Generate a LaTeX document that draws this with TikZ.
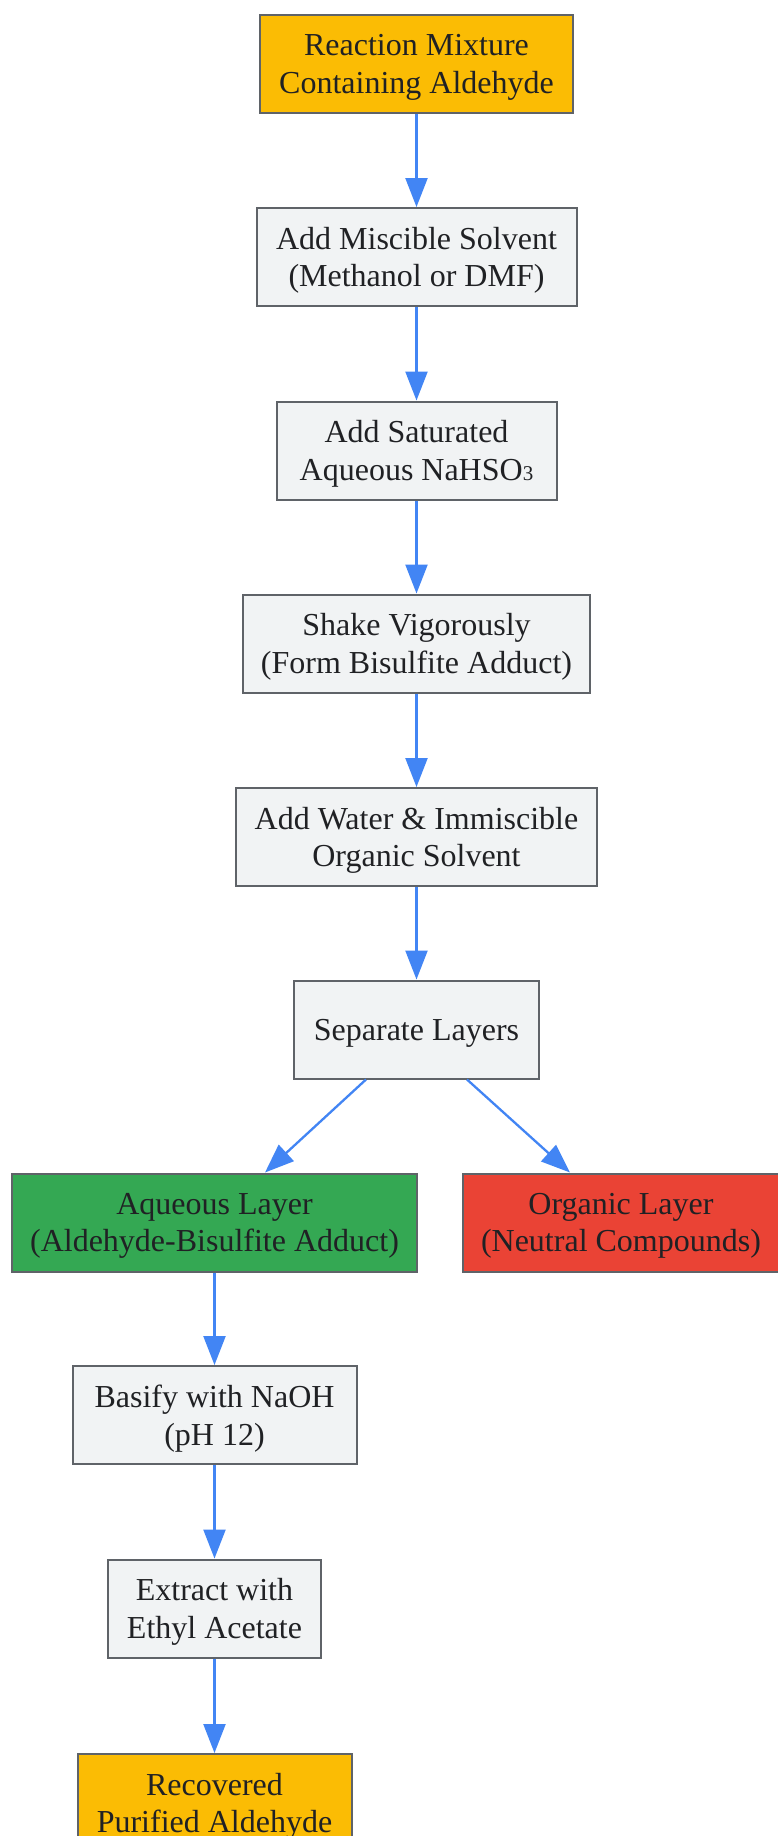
\documentclass[tikz,border=0pt]{standalone}
\usepackage{fontspec}
\setmainfont{Liberation Serif}
\usetikzlibrary{arrows.meta,calc}
\definecolor{cyellow}{HTML}{FBBC04}
\definecolor{cgreen}{HTML}{34A853}
\definecolor{cred}{HTML}{EA4335}
\definecolor{cgray}{HTML}{F1F3F4}
\definecolor{cborder}{HTML}{5F6368}
\definecolor{carrow}{HTML}{4285F4}
\definecolor{ctext}{HTML}{202124}
\tikzset{
  box/.style={draw=cborder, line width=2pt, fill=cgray, minimum height=98pt, inner sep=0pt,
    align=center, text=ctext, font=\fontsize{32}{37.7}\selectfont, text depth=-14pt},
  flow/.style={draw=carrow, line width=2.3pt, -{Triangle[length=29pt,width=22pt]}},
}
\begin{document}
\begin{tikzpicture}[x=1pt,y=-1pt]
\useasboundingbox (0,0) rectangle (777,1836);
\fill[white] (0,0) rectangle (777,1836);
\node[box, fill=cyellow, minimum width=313pt] (n1) at (416.5,64) {Reaction Mixture\\Containing Aldehyde};
\node[box, minimum width=320pt] (n2) at (416.5,257) {Add Miscible Solvent\\(Methanol or DMF)};
\node[box, minimum width=280pt] (n3) at (416.5,450.5) {Add Saturated\\Aqueous NaHSO{\fontsize{21}{21}\selectfont 3}};
\node[box, minimum width=347pt] (n4) at (416.5,643.5) {Shake Vigorously\\(Form Bisulfite Adduct)};
\node[box, minimum width=361pt] (n5) at (416.5,837) {Add Water \& Immiscible\\Organic Solvent};
\node[box, minimum width=245pt] (sep) at (416.5,1029.5) {Separate Layers};
\node[box, fill=cgreen, minimum width=405pt] (aq) at (214.5,1222.5) {Aqueous Layer\\(Aldehyde-Bisulfite Adduct)};
\node[box, fill=cred, minimum width=316pt] (org) at (621,1222.5) {Organic Layer\\(Neutral Compounds)};
\node[box, minimum width=284pt] (bas) at (214.5,1415) {Basify with NaOH\\(pH 12)};
\node[box, minimum width=213pt] (ext) at (214.5,1608.5) {Extract with\\Ethyl Acetate};
\node[box, fill=cyellow, minimum width=274pt] (rec) at (214.5,1803) {Recovered\\Purified Aldehyde};
\draw[flow] (n1.south) -- (n2.north);
\draw[flow] (n2.south) -- (n3.north);
\draw[flow] (n3.south) -- (n4.north);
\draw[flow] (n4.south) -- (n5.north);
\draw[flow] (n5.south) -- (sep.north);
\draw[flow] ($(sep.south)+(-50.5,0)$) -- ($(aq.north)+(50.5,0)$);
\draw[flow] ($(sep.south)+(50.5,0)$) -- ($(org.north)+(-51,0)$);
\draw[flow] (aq.south) -- (bas.north);
\draw[flow] (bas.south) -- (ext.north);
\draw[flow] (ext.south) -- (rec.north);
\end{tikzpicture}
\end{document}
